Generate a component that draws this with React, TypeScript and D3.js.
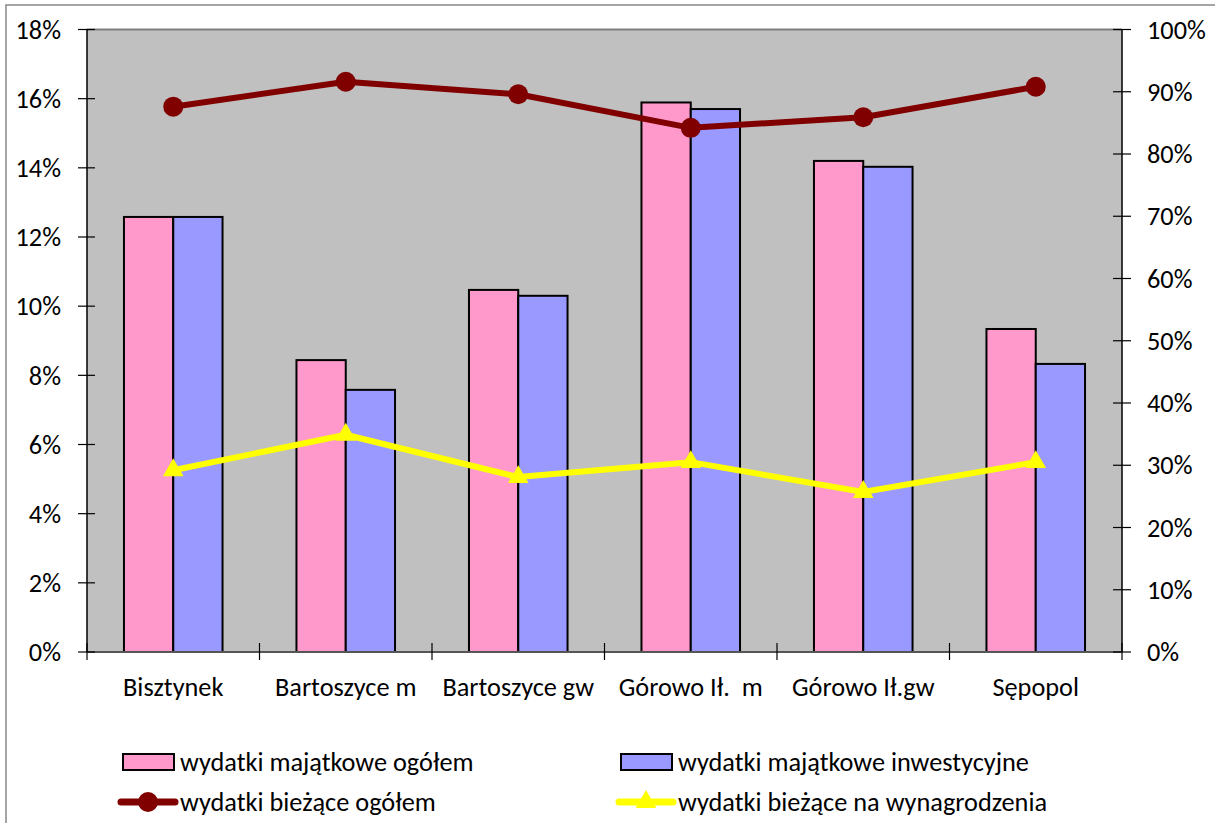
import * as d3 from "d3";

const categories = ["Bisztynek", "Bartoszyce m", "Bartoszyce gw", "Górowo Ił.  m", "Górowo Ił.gw", "Sępopol"];
const majatkoweOgolem = [12.58, 8.44, 10.47, 15.89, 14.2, 9.34];
const majatkoweInwest = [12.58, 7.58, 10.3, 15.7, 14.03, 8.33];
const biezaceOgolem = [87.6, 91.6, 89.6, 84.2, 85.9, 90.8];
const biezaceWynagr = [29.2, 34.9, 28.1, 30.5, 25.7, 30.5];
const leftTicks = [0, 2, 4, 6, 8, 10, 12, 14, 16, 18];
const rightTicks = [0, 10, 20, 30, 40, 50, 60, 70, 80, 90, 100];

const legendItems = [
  { label: "wydatki majątkowe ogółem", kind: "bar", color: "#FF99CC" },
  { label: "wydatki majątkowe inwestycyjne", kind: "bar", color: "#9999FF" },
  { label: "wydatki bieżące ogółem", kind: "circle", color: "#800000" },
  { label: "wydatki bieżące na wynagrodzenia", kind: "triangle", color: "#FFFF00" },
];

const font = "Carlito, Calibri, 'Open Sans', sans-serif";
const fs = 26.3;

export default function App() {
  const left = 87;
  const right = 1122;
  const top = 29.5;
  const bottom = 652;

  const x = d3.scaleBand<string>().domain(categories).range([left, right]);
  const inner = d3
    .scaleBand<string>()
    .domain(["a", "b"])
    .range([0, x.bandwidth()])
    .paddingInner(0)
    .paddingOuter(0.75);
  const yL = d3.scaleLinear().domain([0, 18]).range([bottom, top]);
  const yR = d3.scaleLinear().domain([0, 100]).range([bottom, top]);
  const cx = (c: string) => (x(c) ?? 0) + x.bandwidth() / 2;

  const line = d3
    .line<number>()
    .x((_, i) => cx(categories[i]))
    .y((v) => yR(v));

  const tri = d3.symbol().type(d3.symbolTriangle).size(185);

  return (
    <svg
      width={1215}
      height={823}
      style={{ position: "absolute", left: 0, top: 0, background: "#fff" }}
      fontFamily={font}
    >
      <rect x={6} y={5} width={1220} height={830} fill="#fff" stroke="#888" strokeWidth={1.5} />
      <rect x={left} y={top} width={right - left} height={bottom - top} fill="#C0C0C0" />
      <line x1={left} x2={right} y1={top} y2={top} stroke="#808080" strokeWidth={2} />

      {categories.map((c, i) => (
        <g key={c}>
          <rect
            x={(x(c) ?? 0) + (inner("a") ?? 0)}
            y={yL(majatkoweOgolem[i])}
            width={inner.bandwidth()}
            height={bottom - yL(majatkoweOgolem[i])}
            fill="#FF99CC"
            stroke="#000"
            strokeWidth={2}
          />
          <rect
            x={(x(c) ?? 0) + (inner("b") ?? 0)}
            y={yL(majatkoweInwest[i])}
            width={inner.bandwidth()}
            height={bottom - yL(majatkoweInwest[i])}
            fill="#9999FF"
            stroke="#000"
            strokeWidth={2}
          />
        </g>
      ))}

      {/* axes */}
      <line x1={left} x2={left} y1={top} y2={bottom} stroke="#000" strokeWidth={1.5} />
      <line x1={right} x2={right} y1={top} y2={bottom} stroke="#000" strokeWidth={1.5} />
      <line x1={left} x2={right} y1={bottom} y2={bottom} stroke="#555" strokeWidth={2} />
      {leftTicks.map((t) => (
        <g key={"l" + t}>
          <line x1={left - 9} x2={left + 8} y1={yL(t)} y2={yL(t)} stroke="#000" strokeWidth={1.2} />
          <text x={61} y={yL(t)} dy="0.35em" textAnchor="end" fontSize={fs}>
            {t}%
          </text>
        </g>
      ))}
      {rightTicks.map((t) => (
        <g key={"r" + t}>
          <line x1={right - 9} x2={right + 9} y1={yR(t)} y2={yR(t)} stroke="#000" strokeWidth={1.2} />
          <text x={1147} y={yR(t)} dy="0.35em" textAnchor="start" fontSize={fs}>
            {t}%
          </text>
        </g>
      ))}
      {categories.map((c) => (
        <line key={"t" + c} x1={x(c) ?? 0} x2={x(c) ?? 0} y1={bottom - 9} y2={bottom + 8} stroke="#000" strokeWidth={1.2} />
      ))}
      <line x1={right} x2={right} y1={bottom - 9} y2={bottom + 8} stroke="#000" strokeWidth={1.2} />
      {categories.map((c) => (
        <text
          key={"c" + c}
          x={cx(c)}
          y={687}
          dy="0.35em"
          textAnchor="middle"
          fontSize={fs}
          style={{ whiteSpace: "pre" }}
        >
          {c}
        </text>
      ))}

      {/* lines */}
      <path d={line(biezaceOgolem) ?? ""} fill="none" stroke="#800000" strokeWidth={6} strokeLinejoin="round" />
      {biezaceOgolem.map((v, i) => (
        <circle key={"o" + i} cx={cx(categories[i])} cy={yR(v)} r={10} fill="#800000" />
      ))}
      <path d={line(biezaceWynagr) ?? ""} fill="none" stroke="#FFFF00" strokeWidth={6} strokeLinejoin="round" />
      {biezaceWynagr.map((v, i) => (
        <path
          key={"w" + i}
          d={tri() ?? ""}
          transform={`translate(${cx(categories[i])},${yR(v)})`}
          fill="#FFFF00"
        />
      ))}

      {/* legend */}
      {legendItems.map((item, i) => {
        const lx = i % 2 === 0 ? 123 : 621;
        const ly = i < 2 ? 762 : 802;
        return (
          <g key={item.label}>
            {item.kind === "bar" ? (
              <rect x={lx} y={ly - 8} width={51} height={16} fill={item.color} stroke="#000" strokeWidth={2} />
            ) : (
              <line x1={lx - 2} x2={lx + 52} y1={ly} y2={ly} stroke={item.color} strokeWidth={7} strokeLinecap="round" />
            )}
            {item.kind === "circle" && <circle cx={lx + 25} cy={ly} r={10} fill={item.color} />}
            {item.kind === "triangle" && (
              <path d={tri() ?? ""} transform={`translate(${lx + 25},${ly})`} fill={item.color} />
            )}
            <text x={lx + 57} y={ly} dy="0.35em" fontSize={fs}>
              {item.label}
            </text>
          </g>
        );
      })}
    </svg>
  );
}
